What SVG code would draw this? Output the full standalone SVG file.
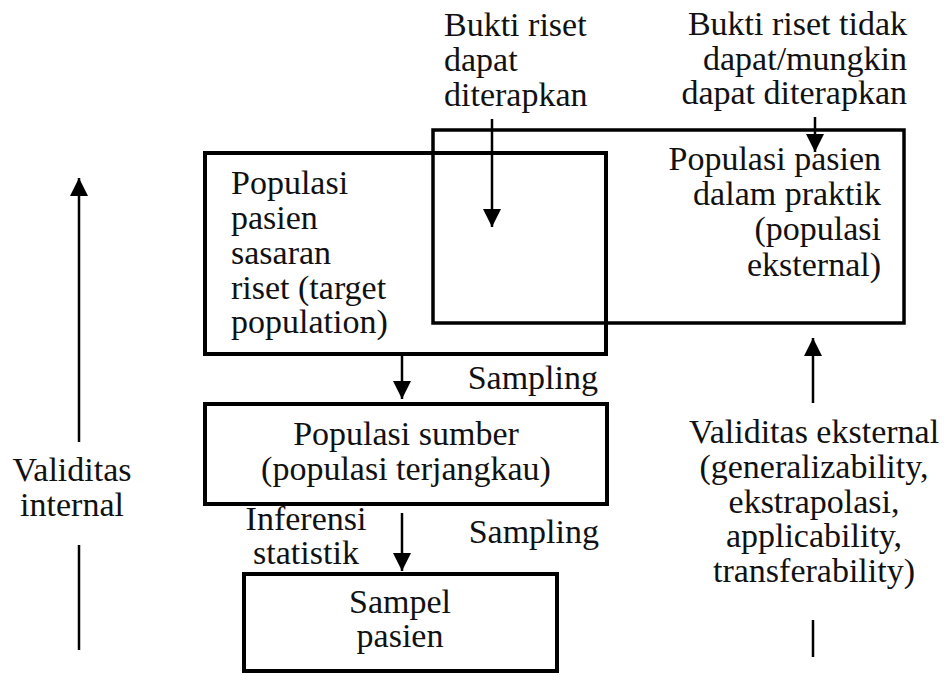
<svg xmlns="http://www.w3.org/2000/svg" width="944" height="675" viewBox="0 0 944 675" font-family="'Liberation Serif', 'Times New Roman', serif">
  <defs>
    <style>
      text { font-family: "Liberation Serif", "Times New Roman", serif; font-size: 34px; fill: #111; }
      .box { fill: none; stroke: #000; stroke-width: 4; }
      .conn { stroke: #000; stroke-width: 2.5; fill: none; }
      .l { text-anchor: start; }
      .r { text-anchor: end; }
      .m { text-anchor: middle; }
    </style>
    <marker id="ah" viewBox="0 0 18 18" refX="18" refY="9" markerWidth="18" markerHeight="18" markerUnits="userSpaceOnUse" orient="auto">
      <path d="M0,0 L18,9 L0,18 Z" fill="#000"/>
    </marker>
  </defs>
  <rect width="944" height="675" fill="#fff"/>

  <g id="target-population">
    <rect class="box" x="205" y="153" width="401" height="201"/>
    <text class="l" x="231" y="194">Populasi</text>
    <text class="l" x="231" y="229">pasien</text>
    <text class="l" x="231" y="264">sasaran</text>
    <text class="l" x="231" y="299">riset (target</text>
    <text class="l" x="231" y="333">population)</text>
  </g>

  <g id="external-population">
    <rect class="box" x="433" y="130" width="471" height="193" style="stroke-width:3.5"/>
    <text class="r" x="881" y="170">Populasi pasien</text>
    <text class="r" x="881" y="205">dalam praktik</text>
    <text class="r" x="881" y="240">(populasi</text>
    <text class="r" x="881" y="276">eksternal)</text>
  </g>

  <g id="source-population">
    <rect class="box" x="205" y="404" width="402" height="100"/>
    <text class="m" x="406" y="445">Populasi sumber</text>
    <text class="m" x="406" y="480">(populasi terjangkau)</text>
  </g>

  <g id="patient-sample">
    <rect class="box" x="244" y="574" width="313" height="97"/>
    <text class="m" x="400" y="613">Sampel</text>
    <text class="m" x="400" y="647">pasien</text>
  </g>

  <g id="label-applicable">
    <text class="l" x="444" y="36">Bukti riset</text>
    <text class="l" x="444" y="71">dapat</text>
    <text class="l" x="444" y="106">diterapkan</text>
  </g>

  <g id="label-not-applicable">
    <text class="r" x="907" y="35">Bukti riset tidak</text>
    <text class="r" x="907" y="70">dapat/mungkin</text>
    <text class="r" x="907" y="104">dapat diterapkan</text>
  </g>

  <g id="label-sampling-1">
    <text class="r" x="598" y="389">Sampling</text>
  </g>
  <g id="label-sampling-2">
    <text class="r" x="599" y="543">Sampling</text>
  </g>
  <g id="label-inference">
    <text class="m" x="306" y="530">Inferensi</text>
    <text class="m" x="306" y="564">statistik</text>
  </g>
  <g id="label-internal-validity">
    <text class="m" x="72" y="481">Validitas</text>
    <text class="m" x="72" y="516">internal</text>
  </g>
  <g id="label-external-validity">
    <text class="m" x="814" y="443">Validitas eksternal</text>
    <text class="m" x="814" y="478">(generalizability,</text>
    <text class="m" x="814" y="513">ekstrapolasi,</text>
    <text class="m" x="814" y="547">applicability,</text>
    <text class="m" x="814" y="582">transferability)</text>
  </g>

  <g id="connectors">
    <line class="conn" x1="492" y1="119" x2="492" y2="227" marker-end="url(#ah)"/>
    <line class="conn" x1="815" y1="117" x2="815" y2="152" marker-end="url(#ah)"/>
    <line class="conn" x1="402" y1="352" x2="402" y2="399" marker-end="url(#ah)"/>
    <line class="conn" x1="402" y1="513" x2="402" y2="571" marker-end="url(#ah)"/>
    <line class="conn" x1="79" y1="442" x2="79" y2="178" marker-end="url(#ah)"/>
    <line class="conn" x1="79" y1="545" x2="79" y2="650"/>
    <line class="conn" x1="813" y1="403" x2="813" y2="338" marker-end="url(#ah)"/>
    <line class="conn" x1="813" y1="620" x2="813" y2="657"/>
  </g>
</svg>
